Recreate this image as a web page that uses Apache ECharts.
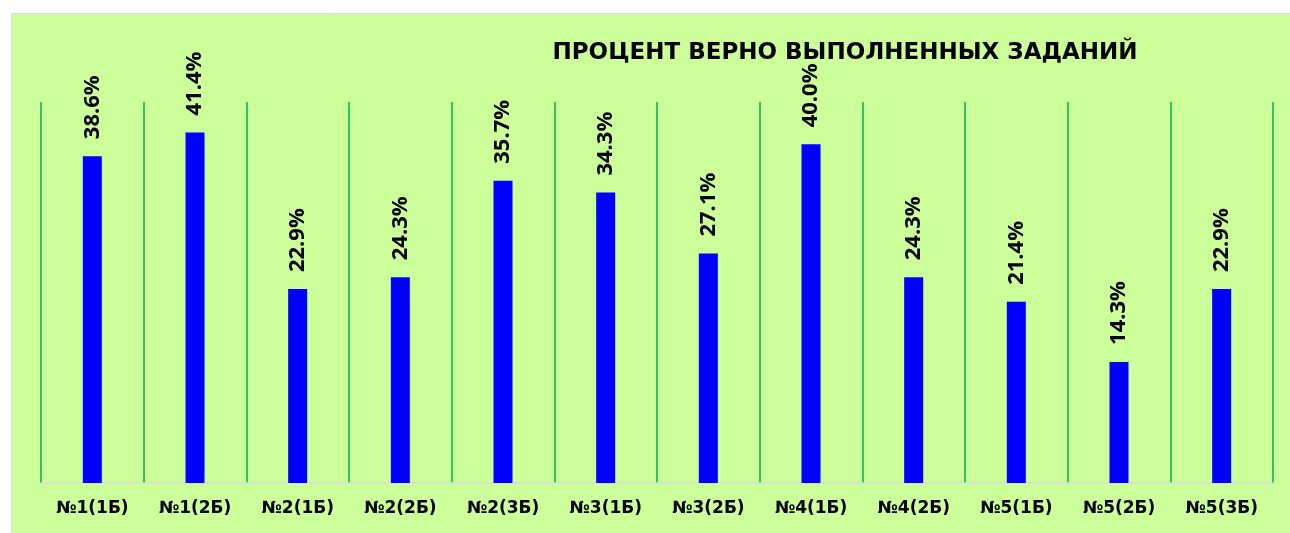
<!DOCTYPE html>
<html lang="ru" style="background: #FFFFFF;height: 100%">
	<head>
		<meta charset="utf-8" />
		<title></title>
		<script type="text/javascript" src="https://cdn.jsdelivr.net/npm/echarts@6/dist/echarts.min.js"></script>
	</head>
	<style>
		html,body {
			margin: 0;
			padding: 0;
		}
		body {
			overflow: hidden;
		}
	</style>
	<body style="height: 100%;">
		<div id="chart" style="width: 1290px;height: 533px"></div>
		<script>
			var titleText = 'ПРОЦЕНТ ВЕРНО ВЫПОЛНЕННЫХ ЗАДАНИЙ';
			var categories = ['№1(1Б)', '№1(2Б)', '№2(1Б)', '№2(2Б)', '№2(3Б)', '№3(1Б)', '№3(2Б)', '№4(1Б)', '№4(2Б)', '№5(1Б)', '№5(2Б)', '№5(3Б)'];
			var percents = [38.6, 41.4, 22.9, 24.3, 35.7, 34.3, 27.1, 40.0, 24.3, 21.4, 14.3, 22.9];

			var chart = echarts.init(document.getElementById('chart'));

			chart.setOption({
				animation: false,
				backgroundColor: '#FFFFFF',
				// светло-зелёная подложка с серой рамкой
				graphic: [{
					type: 'rect',
					shape: { x: 11.5, y: 13.5, width: 1290, height: 530 },
					style: { fill: '#CCFF99', stroke: '#D9D9D9', lineWidth: 1 },
					z: -10
				}],
				title: {
					text: titleText,
					left: 840,
					top: 37,
					textAlign: 'center',
					textStyle: {
						fontFamily: 'DejaVu Sans',
						fontWeight: 'bold',
						fontSize: 23,
						color: '#000000'
					}
				},
				grid: { left: 41, right: 17, top: 102, bottom: 50 },
				xAxis: {
					type: 'category',
					data: categories,
					axisLine: { lineStyle: { color: '#D9D9D9', width: 1.5 } },
					axisTick: { show: false },
					axisLabel: {
						margin: 17,
						fontFamily: 'DejaVu Sans',
						fontWeight: 'bold',
						fontSize: 17,
						color: '#000000'
					},
					splitLine: { show: true, lineStyle: { color: '#00B050', width: 1.5 } }
				},
				yAxis: {
					type: 'value',
					min: 0,
					max: 45,
					show: false,
					splitLine: { show: false }
				},
				series: [{
					type: 'bar',
					data: percents,
					barWidth: 19,
					itemStyle: { color: '#0000FF' },
					label: {
						show: true,
						position: 'top',
						rotate: 90,
						align: 'left',
						verticalAlign: 'middle',
						distance: 17,
						fontFamily: 'Open Sans',
						fontWeight: 'bold',
						fontSize: 22,
						color: '#000000',
						formatter: function (p) { return p.value.toFixed(1) + '%'; }
					}
				}]
			});

			window.addEventListener('resize', () => {
				chart.resize();
			});
		</script>
	</body>
</html>
